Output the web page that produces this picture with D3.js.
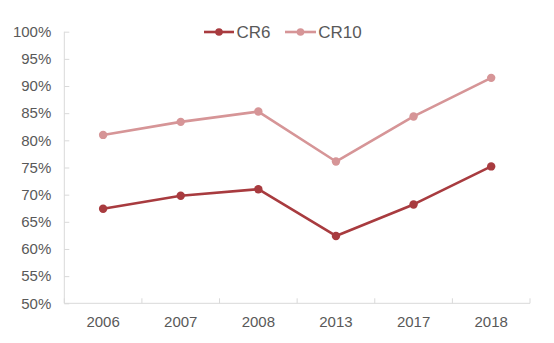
<!DOCTYPE html>
<html>
<head>
<meta charset="utf-8">
<script src="https://cdn.jsdelivr.net/npm/d3@7"></script>
<style>
  html, body { margin: 0; padding: 0; background: #ffffff; }
  svg { display: block; font-family: "Liberation Sans", Arial, sans-serif; }
</style>
</head>
<body>
<svg id="chart" width="554" height="343"></svg>
<script>
// Years along the category axis
const years = ["2006", "2007", "2008", "2013", "2017", "2018"];
// Concentration ratios (share of the top 6 / top 10 firms)
const cr6 = [0.674, 0.698, 0.710, 0.624, 0.682, 0.752];
const cr10 = [0.810, 0.834, 0.853, 0.761, 0.844, 0.915];
// Percent ticks on the value axis
const yTicks = [0.50, 0.55, 0.60, 0.65, 0.70, 0.75, 0.80, 0.85, 0.90, 0.95, 1.00];

const seriesNames = ["CR6", "CR10"];
const seriesColors = ["#a83b3f", "#d69597"];
const seriesValues = [cr6, cr10];

const svg = d3.select("#chart");
const plot = { left: 64.3, right: 530, top: 31.7, bottom: 303.3 };

const x = d3.scaleBand().domain(years).range([plot.left, plot.right]).padding(0);
const y = d3.scaleLinear().domain([0.5, 1.0]).range([plot.bottom, plot.top]);

const axisColor = "#d9d9d9";
const textColor = "#595959";

// Value axis
const yAxis = svg.append("g")
  .attr("transform", `translate(${plot.left},0)`)
  .call(d3.axisLeft(y).tickValues(yTicks).tickSize(-5).tickPadding(13)
    .tickFormat(d3.format(".0%")));
yAxis.select(".domain").attr("stroke", axisColor).attr("d", `M0,${plot.top}V${plot.bottom}`);
yAxis.selectAll(".tick line").attr("stroke", axisColor);
yAxis.selectAll(".tick text").attr("fill", textColor).style("font-size", "15px");

// Category axis: labels centred in each band, tick marks on band edges
const xAxis = svg.append("g")
  .attr("transform", `translate(0,${plot.bottom})`)
  .call(d3.axisBottom(x).tickSize(0).tickPadding(13));
xAxis.select(".domain").attr("stroke", axisColor).attr("d", `M${plot.left},0H${plot.right}`);
xAxis.selectAll(".tick text").attr("fill", textColor).style("font-size", "15px");
const edges = years.map(d => x(d)).concat([x(years[years.length - 1]) + x.bandwidth()]);
xAxis.selectAll("line.edge").data(edges).enter().append("line")
  .attr("class", "edge")
  .attr("x1", d => d).attr("x2", d => d)
  .attr("y1", 0).attr("y2", -5)
  .attr("stroke", axisColor);

// Lines with markers
const cx = d => x(d) + x.bandwidth() / 2;
const line = d3.line().x((v, i) => cx(years[i])).y(v => y(v));

seriesValues.forEach((vals, s) => {
  const g = svg.append("g");
  g.append("path")
    .datum(vals)
    .attr("d", line)
    .attr("fill", "none")
    .attr("stroke", seriesColors[s])
    .attr("stroke-width", 2.6)
    .attr("stroke-linejoin", "round");
  g.selectAll("circle").data(vals).enter().append("circle")
    .attr("cx", (v, i) => cx(years[i]))
    .attr("cy", v => y(v))
    .attr("r", 4.2)
    .attr("fill", seriesColors[s]);
});

// Legend
const legendY = 32;
const legendItems = [
  { x0: 204, x1: 234, tx: 236.5 },
  { x0: 285, x1: 316, tx: 318.3 }
];
legendItems.forEach((it, s) => {
  const g = svg.append("g");
  g.append("line")
    .attr("x1", it.x0).attr("x2", it.x1)
    .attr("y1", legendY).attr("y2", legendY)
    .attr("stroke", seriesColors[s]).attr("stroke-width", 2.6);
  g.append("circle")
    .attr("cx", (it.x0 + it.x1) / 2).attr("cy", legendY).attr("r", 3.8)
    .attr("fill", seriesColors[s]);
  g.append("text")
    .attr("x", it.tx).attr("y", legendY).attr("dy", "0.36em")
    .attr("fill", textColor)
    .style("font-size", "17px")
    .text(seriesNames[s]);
});
</script>
</body>
</html>
